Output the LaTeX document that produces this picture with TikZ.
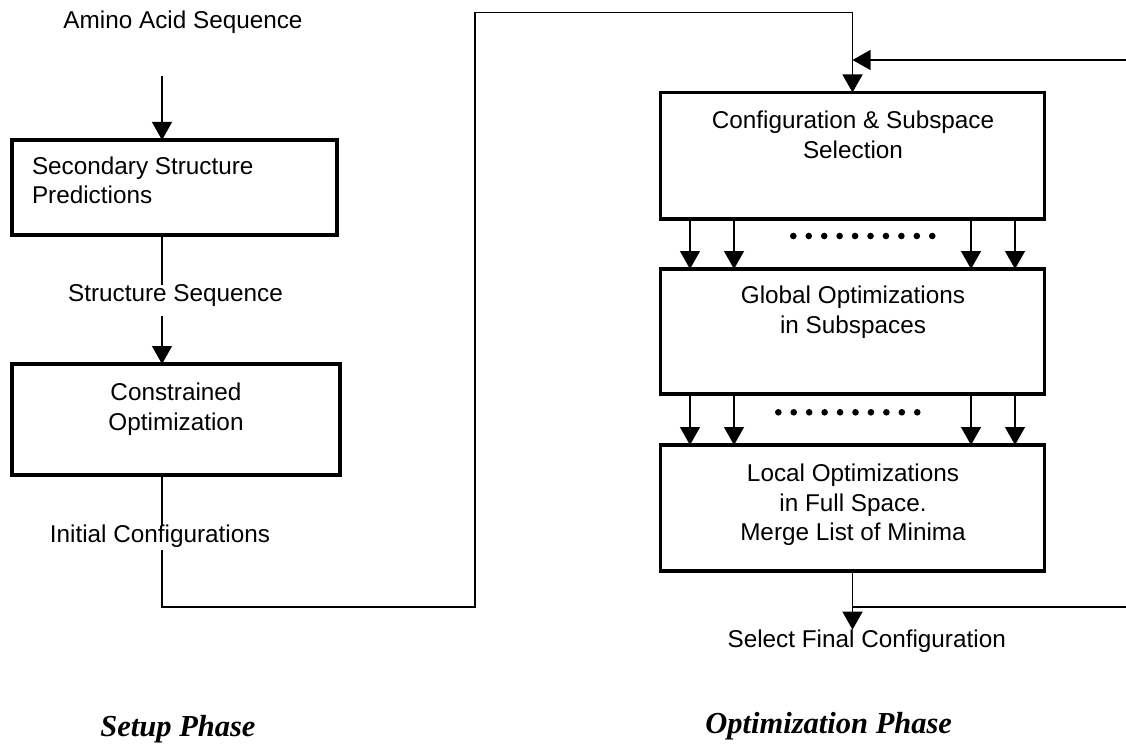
\documentclass[tikz,border=0pt]{standalone}
\usepackage{fontspec}
\setmainfont{Liberation Sans}
\newfontfamily\phasefont{Liberation Serif}
\usetikzlibrary{arrows.meta}

\begin{document}
\begin{tikzpicture}[x=1pt,y=-1pt,
    every node/.style={font=\fontsize{24.3}{29.5}\selectfont, inner sep=0pt, outer sep=0pt},
    stage/.style={draw, line width=3.3pt, rectangle},
    flow/.style={line width=1.3pt},
    arr/.style={flow, -{Triangle[length=18pt,width=20pt]}},
    phase/.style={font=\fontsize{30.5}{36}\selectfont\phasefont\bfseries\itshape}]
  \useasboundingbox (0,0) rectangle (1126,746);
  %% Draw the boxes
  \node[stage, minimum width=325pt, minimum height=95pt] (secstruct) at (174.5,187.5) {};
  \node[stage, minimum width=328pt, minimum height=111pt] (constr) at (176,419.5) {};
  \node[stage, minimum width=384pt, minimum height=126.5pt] (confsel) at (852.5,155.75) {};
  \node[stage, minimum width=384pt, minimum height=125pt] (globopt) at (852.5,331.5) {};
  \node[stage, minimum width=384pt, minimum height=126pt] (localopt) at (852.5,508) {};
  %% Draw the box texts (anchored at the last line)
  \node[anchor=base west, align=left] (secstructtxt) at (32,204) {Secondary Structure\\Predictions};
  \node[anchor=base, align=center] (constrtxt) at (176,430) {Constrained\\Optimization};
  \node[anchor=base, align=center] (confseltxt) at (853,158.3) {Configuration \& Subspace\\Selection};
  \node[anchor=base, align=center] (globopttxt) at (853,333) {Global Optimizations\\in Subspaces};
  \node[anchor=base, align=center] (localopttxt) at (853,540.7) {Local Optimizations\\in Full Space.\\Merge List of Minima};
  %% Draw the free labels
  \node[anchor=base] (amino) at (183,29) {Amino Acid Sequence};
  \node[anchor=base] (strseq) at (175.5,301.7) {Structure Sequence};
  \node[anchor=base] (initcfg) at (160,542.7) {Initial Configurations};
  \node[anchor=base] (final) at (866.7,647.3) {Select Final Configuration};
  \node[phase, anchor=base] (setup) at (178,736.7) {Setup Phase};
  \node[phase, anchor=base] (optim) at (828.7,733) {Optimization Phase};
  %% Draw the edges
  \coordinate (lx) at (162,0);
  \coordinate (aminoout) at (162,76);
  \coordinate (strseqout) at (162,316);
  \coordinate (initcfgout) at (162,550);
  \coordinate (turnA) at (475,607);
  \coordinate (turnB) at (475,12.5);
  \coordinate (looptop) at (1126,60);
  \coordinate (loopbot) at (1126,607);
  \draw[arr] (aminoout) -- (aminoout |- secstruct.north);
  \draw[flow] (lx |- secstruct.south) -- (lx |- strseq.north);
  \draw[arr] (strseqout) -- (strseqout |- constr.north);
  \draw[flow] (lx |- constr.south) -- (lx |- initcfg.north);
  \draw[arr] (initcfgout) |- (turnA) -- (turnB) -| (confsel.north);
  \draw[arr] (looptop) -- (looptop -| confsel.north);
  \begin{scope}[every path/.style={arr}]
    \foreach \x in {690,734,971,1015} {
      \draw (\x,0 |- confsel.south) -- (\x,0 |- globopt.north);
      \draw (\x,0 |- globopt.south) -- (\x,0 |- localopt.north);
    }
  \end{scope}
  \draw[arr] (localopt.south) -- (localopt.south |- final.north);
  \draw[flow] (localopt.south |- loopbot) -- (loopbot);
  %% Draw the dots
  \foreach \i in {0,...,9} {
    \fill (793.3+15.44*\i,236) circle (3.3pt);
    \fill (778.3+15.44*\i,412.3) circle (3.3pt);
  }
\end{tikzpicture}
\end{document}
